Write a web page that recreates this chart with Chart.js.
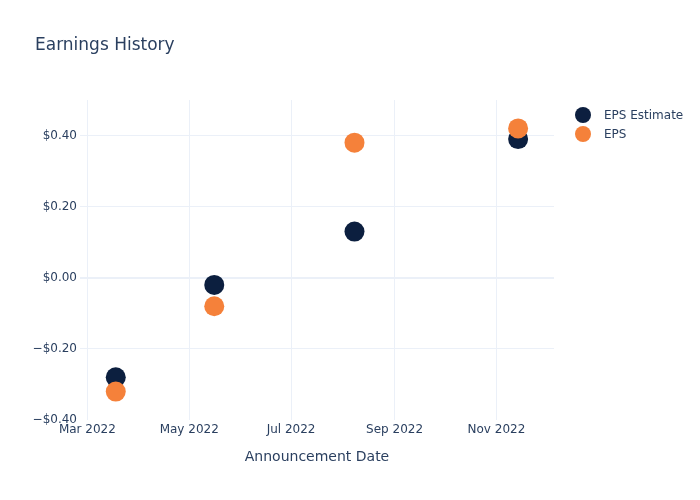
<!DOCTYPE html>
<html>
<head>
<meta charset="utf-8">
<script src="https://cdn.jsdelivr.net/npm/chart.js@4/dist/chart.umd.min.js"></script>
<style>
  body { margin: 0; background: #fff; font-family: "DejaVu Sans", sans-serif; color: #2a3f5f; }
  #wrap { position: relative; width: 700px; height: 500px; }
  #title { position: absolute; left: 35px; top: 34px; font-size: 17px; line-height: 20px; }
  #legend { position: absolute; left: 575px; top: 105px; font-size: 12px; }
  .item { display: flex; align-items: center; height: 19px; }
  .dot { width: 16px; height: 16px; border-radius: 50%; margin-right: 13px; }
</style>
</head>
<body>
<div id="wrap">
  <canvas id="chart" width="700" height="500"></canvas>
  <div id="title">Earnings History</div>
  <div id="legend">
    <div class="item"><span class="dot" style="background:#0c1f3f"></span>EPS Estimate</div>
    <div class="item"><span class="dot" style="background:#f5813a"></span>EPS</div>
  </div>
</div>
<script>
// announcement dates and values
const dates = ['2022-03-18', '2022-05-16', '2022-08-08', '2022-11-14'];
const epsEstimate = [-0.28, -0.02, 0.13, 0.39];
const eps = [-0.32, -0.08, 0.38, 0.42];

// axis ticks
const xTicks = ['2022-03-01', '2022-05-01', '2022-07-01', '2022-09-01', '2022-11-01'];
const yTicks = [-0.4, -0.2, 0, 0.2, 0.4];
const monthNames = ['Jan', 'Feb', 'Mar', 'Apr', 'May', 'Jun', 'Jul', 'Aug', 'Sep', 'Oct', 'Nov', 'Dec'];

// axis ranges
const xMin = Date.UTC(2022, 1, 24, 14);
const xMax = Date.UTC(2022, 11, 5, 12);
const yMin = -0.4;
const yMax = 0.5;

const toTime = d => Date.parse(d + 'T00:00:00Z');

function toPoints(vals) {
    return dates.map((d, i) => ({ x: toTime(d), y: vals[i] }));
}

function money(v) {
    const s = '$' + Math.abs(v).toFixed(2);
    return v < -1e-9 ? '\u2212' + s : s;
}

const textColor = '#2a3f5f';
const gridColor = '#ebf0f8';

new Chart(document.getElementById('chart'), {
    type: 'scatter',
    data: {
        datasets: [
            { label: 'EPS Estimate', data: toPoints(epsEstimate), backgroundColor: '#0c1f3f', borderColor: '#0c1f3f', pointRadius: 10, pointHoverRadius: 10, borderWidth: 0, order: 1 },
            { label: 'EPS', data: toPoints(eps), backgroundColor: '#f5813a', borderColor: '#f5813a', pointRadius: 10, pointHoverRadius: 10, borderWidth: 0, order: 0 }
        ]
    },
    options: {
        responsive: false,
        animation: false,
        layout: { padding: { top: 100, right: 146, left: 0, bottom: 0 } },
        plugins: { legend: { display: false }, title: { display: false }, tooltip: { enabled: false } },
        scales: {
            x: {
                type: 'linear',
                min: xMin,
                max: xMax,
                afterBuildTicks: s => { s.ticks = xTicks.map(d => ({ value: toTime(d) })); },
                afterFit: s => { s.height = 80; },
                grid: { color: gridColor, drawTicks: false },
                border: { display: false },
                ticks: {
                    color: textColor,
                    font: { family: 'DejaVu Sans', size: 12 },
                    padding: 3,
                    maxRotation: 0,
                    callback: v => { const d = new Date(v); return monthNames[d.getUTCMonth()] + ' ' + d.getUTCFullYear(); }
                },
                title: {
                    display: true,
                    text: 'Announcement Date',
                    color: textColor,
                    font: { family: 'DejaVu Sans', size: 14 },
                    padding: { top: 0, bottom: 34 }
                }
            },
            y: {
                min: yMin,
                max: yMax,
                afterBuildTicks: s => { s.ticks = yTicks.map(v => ({ value: v })); },
                afterFit: s => { s.width = 80; },
                grid: {
                    color: c => (c.tick && c.tick.value === yMin ? 'rgba(0,0,0,0)' : gridColor),
                    drawTicks: false,
                    lineWidth: c => (c.tick && c.tick.value === 0 ? 2 : 1)
                },
                border: { display: false },
                ticks: {
                    color: textColor,
                    font: { family: 'DejaVu Sans', size: 12 },
                    padding: 3,
                    callback: v => money(v)
                }
            }
        }
    }
});
</script>
</body>
</html>
